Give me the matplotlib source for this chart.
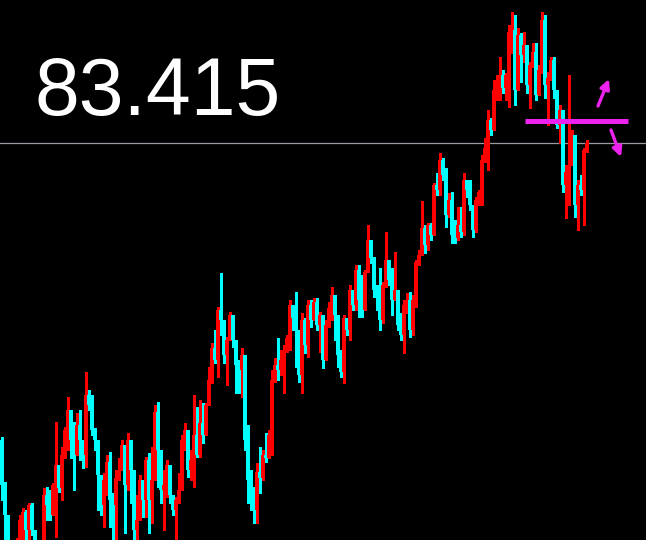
import matplotlib
matplotlib.use("Agg")
import matplotlib.pyplot as plt
import numpy as np

first_open = 80.45
closes = [80.00,79.70,79.37,79.30,79.33,79.40,79.65,79.73,79.55,79.80,
          79.55,79.37,79.35,79.40,79.90,79.80,79.70,80.00,80.20,79.97,
          80.30,80.55,80.75,80.45,80.30,80.60,80.45,80.30,80.90,80.80,
          80.55,80.45,80.10,79.80,80.05,80.23,79.85,79.80,80.07,80.15,
          80.40,80.00,80.45,80.15,79.55,79.65,80.05,79.85,80.25,79.85,
          80.05,80.73,80.35,79.95,80.00,80.20,79.90,79.75,79.85,79.95,
          80.45,80.55,80.15,80.25,80.50,80.30,80.62,80.50,80.80,81.05,
          81.37,81.25,81.75,81.65,81.30,81.45,81.70,81.45,81.20,81.15,
          81.30,80.45,80.05,79.90,79.75,80.13,80.07,80.30,80.27,80.50,
          81.05,81.20,81.15,81.25,81.35,81.47,81.80,81.67,81.55,81.10,
          81.65,81.40,81.80,81.65,81.83,81.60,81.70,81.25,81.60,81.77,
          81.90,81.70,81.30,81.13,81.67,81.55,81.95,81.80,82.15,81.85,
          81.75,82.13,82.45,82.27,81.95,81.90,81.65,82.00,82.25,82.05,
          81.85,81.95,81.60,81.50,81.80,81.85,81.55,81.85,82.23,82.30,
          82.57,82.40,82.60,82.50,83.00,82.95,83.25,83.10,82.70,82.85,
          82.50,82.47,82.60,82.53,83.05,82.95,82.80,82.55,82.85,82.93,
          83.25,83.37,83.65,83.55,83.95,83.97,84.10,83.97,84.10,84.53,
          84.55,83.95,84.50,84.30,84.40,84.00,84.20,84.33,83.90,84.15,
          84.65,84.00,84.07,84.25,83.95,83.60,83.75,83.00,83.13,83.20,
          83.50,82.80,83.00,82.95,83.35,83.42]
highs = [80.48,80.03,79.70,79.40,79.40,79.47,79.70,79.77,79.75,79.82,
         79.82,79.55,79.43,79.45,79.97,79.98,79.95,80.02,80.63,80.20,
         80.38,80.58,80.88,80.60,80.63,80.72,80.75,80.45,81.13,80.95,
         80.90,80.57,80.38,79.95,80.12,80.30,80.33,79.92,80.15,80.27,
         80.45,80.22,80.52,80.45,80.15,79.90,80.10,80.05,80.28,80.32,
         80.38,80.80,80.83,80.15,80.15,80.25,80.15,79.90,79.88,80.12,
         80.50,80.62,80.55,80.35,80.90,80.78,80.85,80.82,80.82,81.18,
         81.42,81.55,81.78,82.12,81.65,81.48,81.73,81.70,81.40,81.25,
         81.37,81.30,80.60,80.15,79.98,80.22,80.38,80.35,80.52,80.55,
         81.15,81.27,81.47,81.35,81.40,81.50,81.85,81.77,81.93,81.55,
         81.72,81.67,81.85,81.85,81.87,81.87,81.73,81.70,81.65,81.83,
         81.98,81.90,81.70,81.35,81.70,81.67,82.00,81.95,82.20,82.20,
         82.10,82.15,82.60,82.45,82.28,82.00,82.17,82.03,82.53,82.25,
         82.17,82.33,81.95,81.72,81.85,81.92,81.93,81.90,82.25,82.35,
         82.84,82.60,82.62,82.62,83.02,83.12,83.32,83.27,83.17,82.92,
         82.93,82.65,82.78,82.78,83.12,83.05,83.05,82.80,82.88,82.95,
         83.30,83.47,83.75,83.67,84.05,84.10,84.28,84.15,84.12,84.60,
         84.73,84.70,84.57,84.52,84.53,84.33,84.23,84.42,84.42,84.20,
         84.73,84.70,84.13,84.28,84.28,83.95,83.80,83.75,83.20,84.10,
         83.55,83.50,83.05,83.10,83.37,83.45]
lows = [79.85,79.45,79.30,79.20,79.25,79.30,79.40,79.45,79.45,79.45,
        79.50,79.30,79.27,79.33,79.40,79.65,79.65,79.70,79.48,79.93,
        79.85,80.27,80.35,80.27,79.95,80.35,80.25,80.17,80.18,80.75,
        80.50,80.35,79.75,79.70,79.58,79.90,79.58,79.40,79.45,80.05,
        80.15,79.52,79.95,79.82,79.45,79.40,79.70,79.68,79.68,79.52,
        79.62,80.30,79.98,79.82,79.55,79.88,79.82,79.70,79.45,79.82,
        79.95,80.35,80.08,80.05,79.98,80.28,80.28,80.42,80.55,80.80,
        81.02,81.22,81.08,81.50,81.22,81.00,81.45,81.38,80.92,80.92,
        80.88,80.35,79.82,79.75,79.62,79.62,79.92,80.05,80.23,80.27,
        80.30,81.03,81.05,81.10,80.92,81.33,81.35,81.55,81.18,81.03,
        80.92,81.32,81.28,81.58,81.65,81.55,81.33,81.17,81.25,81.58,
        81.65,81.45,81.18,81.08,81.02,81.50,81.45,81.75,81.75,81.68,
        81.68,81.75,82.13,82.22,81.88,81.75,81.55,81.62,81.98,82.00,
        81.70,81.85,81.55,81.45,81.32,81.72,81.48,81.50,81.78,82.20,
        82.35,82.32,82.35,82.45,82.50,82.90,82.90,83.05,82.58,82.68,
        82.42,82.42,82.45,82.48,82.50,82.88,82.75,82.48,82.53,82.80,
        82.80,83.23,83.15,83.50,83.60,83.85,83.85,83.92,83.85,83.78,
        84.32,83.80,84.18,84.03,84.23,83.92,83.77,84.18,83.85,83.90,
        84.12,83.87,83.60,84.05,83.87,83.57,83.42,82.93,82.67,82.80,
        83.20,82.68,82.55,82.90,82.60,83.33]
current_price = 83.415
label_text = "83.415"
level_price = 83.64

c = np.array(closes)
o = np.concatenate([[first_open], c[:-1]])
h = np.maximum.reduce([np.array(highs), o, c])
l = np.minimum.reduce([np.array(lows), o, c])
idx = np.arange(len(c))

UP = "#ff0000"
DOWN = "#00ffff"
colors = np.where(c > o, UP, DOWN)

fig = plt.figure(figsize=(6.46, 5.40), dpi=100, facecolor="black")
ax = fig.add_axes([0, 0, 1, 1])
ax.set_facecolor("black")
ax.set_xlim(-0.5, -0.5 + 646 / 3)
ax.set_ylim(79.45, 84.85)
ax.axis("off")

ax.axhline(current_price, color="#9a9aa4", lw=0.9, zorder=1)

ax.vlines(idx, l, h, colors=colors, lw=0.75, antialiased=False, zorder=2)
bottoms = np.minimum(o, c)
heights = np.maximum(np.abs(c - o), 0.012)
ax.bar(idx, heights, bottom=bottoms, width=0.7, color=colors,
       linewidth=0, antialiased=False, zorder=3)

# horizontal level line
ax.plot([174.5, 208.8], [level_price, level_price], color="#ee22ee",
        lw=3.6, solid_capstyle="butt", zorder=4)

fig.text(35 / 646, 1 - 115 / 540, label_text, color="white",
         fontsize=58, family="Liberation Sans", ha="left", va="baseline")

arrow = dict(arrowstyle="-|>", color="#ee22ee", lw=2.4, mutation_scale=14,
             shrinkA=0, shrinkB=0)
ax.annotate("", xy=(609, 540 - 79), xytext=(598, 540 - 106),
            xycoords="figure pixels", textcoords="figure pixels",
            arrowprops=arrow)
ax.annotate("", xy=(621, 540 - 157), xytext=(611, 540 - 130),
            xycoords="figure pixels", textcoords="figure pixels",
            arrowprops=arrow)

fig.savefig("out.png", dpi=100, facecolor="black")
